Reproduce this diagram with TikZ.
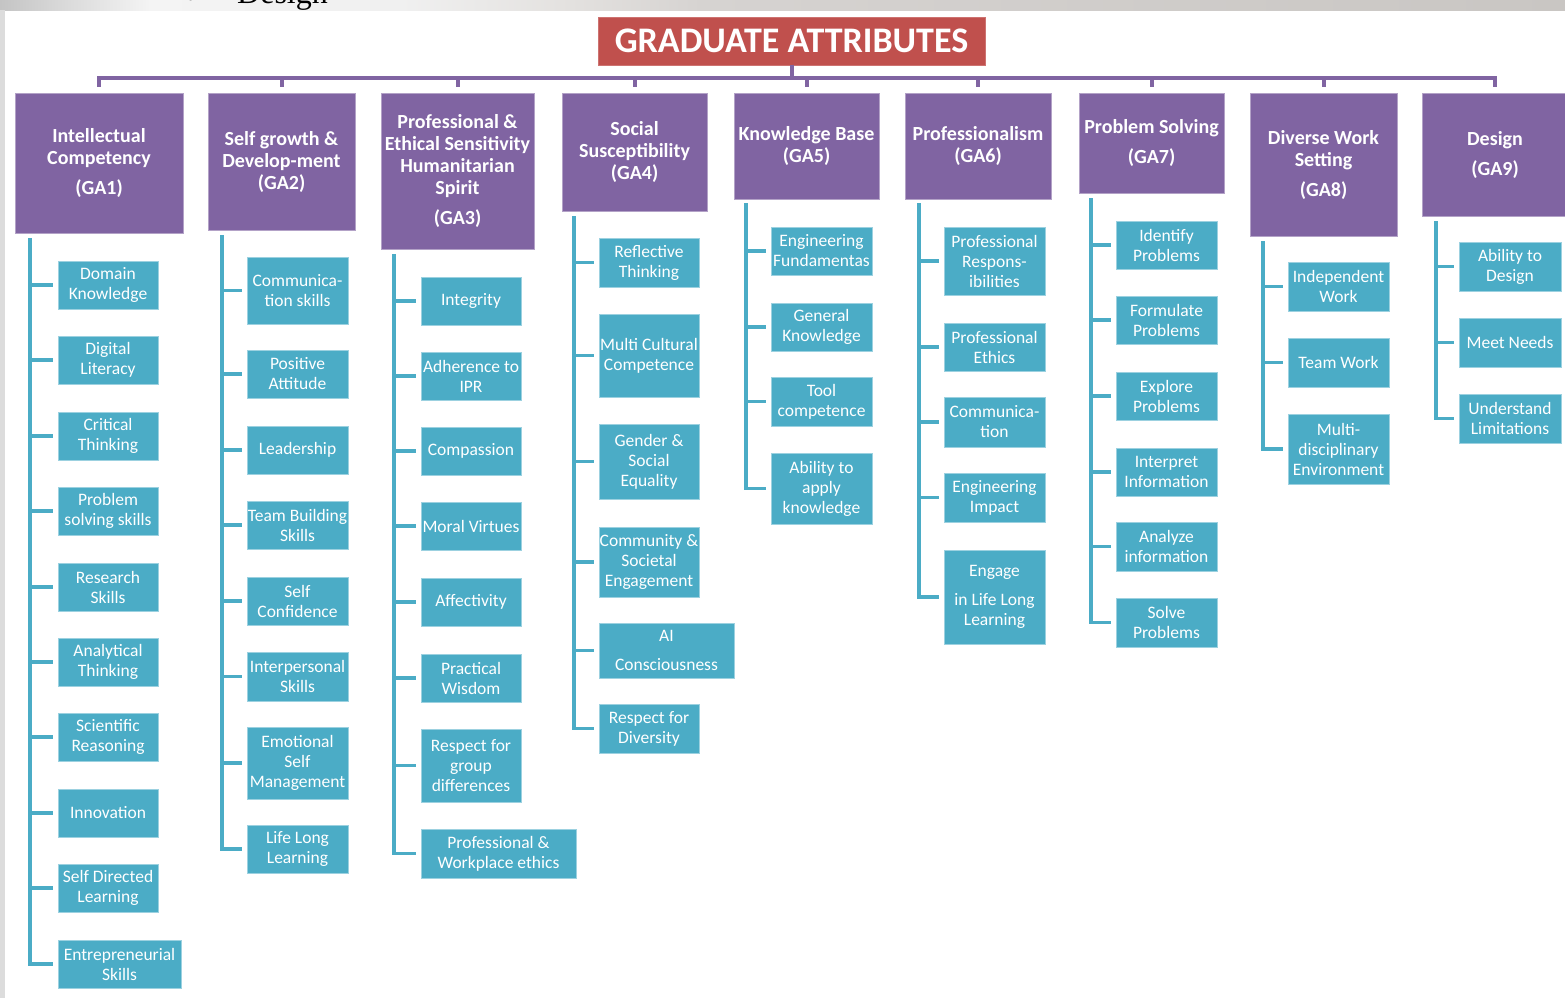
\documentclass[tikz,border=0pt]{standalone}
\usepackage{fontspec}
\setmainfont{Carlito}
\newfontfamily\bandserif{Liberation Serif}

\definecolor{gapurple}{HTML}{8064A2}
\definecolor{gateal}{HTML}{4BACC6}
\definecolor{gared}{HTML}{C0504D}
\definecolor{bandA}{HTML}{C4C4C4}
\definecolor{bandB}{HTML}{D8D8D8}
\definecolor{bandC}{HTML}{F4F4F4}
\definecolor{bandD}{HTML}{F0F0F0}
\definecolor{bandE}{HTML}{E4E2E0}
\definecolor{bandF}{HTML}{D6D3D1}
\definecolor{bandG}{HTML}{C9C6C3}
\definecolor{sidegrey}{HTML}{DCDCDC}

% slide band along the top edge (visible part of the shading is 25bp..75bp)
\pgfdeclarehorizontalshading{topband}{100bp}{%
  color(0bp)=(bandA); color(25bp)=(bandA); color(26.9bp)=(bandB);
  color(29.8bp)=(bandC); color(37.8bp)=(bandD); color(42.9bp)=(bandE);
  color(47.4bp)=(bandF); color(75bp)=(bandG); color(100bp)=(bandG)}

\tikzset{
  attr/.style={fill=gapurple, draw=gapurple!60!white, line width=0.8pt,
    text=white, font=\bfseries\fontsize{20}{22}\selectfont, align=center,
    inner sep=0pt, outer sep=0pt},
  heading/.style={fill=gared, draw=gared!80!white, line width=0.8pt,
    text=white, font=\bfseries\fontsize{36}{38}\selectfont, align=center,
    inner sep=0pt, outer sep=0pt},
  item/.style={fill=gateal, draw=gateal!55!white, line width=0.8pt,
    text=white, font=\fontsize{17.5}{20}\selectfont, align=center,
    inner sep=0pt, outer sep=0pt},
  trunk/.style={draw=gateal, line width=3.5pt, shorten >=5pt},
  stem/.style={draw=gapurple, line width=4pt, shorten >=6pt},
}

% \boxat{style}{name}{left}{top}{right}{bottom}{text}
\newcommand\boxat[7]{%
  \node[#1, minimum width={#5-#3}, minimum height={#6-#4}] (#2)
    at ({(#3+#5)/2},{(#4+#6)/2}) {#7};}

\begin{document}
\begin{tikzpicture}[x=1pt,y=-1pt]
\useasboundingbox (0,0) rectangle (1565,998);
\fill[white] (0,0) rectangle (1565,998);

% page edges
\fill[shading=topband] (0,0) rectangle (1565,10.5);
\fill[sidegrey] (0,10.5) rectangle (5,998);
\begin{scope}
  \clip (0,0) rectangle (1565,10.5);
  \node[font=\bandserif\fontsize{32}{32}\selectfont, anchor=base west,
        inner sep=0pt] (bullet) at (185,8) {•};
  \node[font=\bandserif\fontsize{32}{32}\selectfont, anchor=base west,
        inner sep=0pt] (designword) at (237,4) {Design};
\end{scope}

% title
\boxat{heading}{title}{598}{17}{985}{65}{GRADUATE ATTRIBUTES}

% attribute headers
\boxat{attr}{g1}{15}{93}{183}{233}{Intellectual\\Competency\\[8pt](GA1)}
\boxat{attr}{g2}{208}{93}{355}{230}{Self growth \&\\Develop-ment\\(GA2)}
\boxat{attr}{g3}{381}{93}{534}{249}{Professional \&\\Ethical Sensitivity\\Humanitarian\\Spirit\\[8pt](GA3)}
\boxat{attr}{g4}{562}{93}{707}{211}{Social\\Susceptibility\\(GA4)}
\boxat{attr}{g5}{734}{93}{879}{199}{Knowledge Base\\(GA5)}
\boxat{attr}{g6}{905}{93}{1051}{199}{Professionalism\\(GA6)}
\boxat{attr}{g7}{1079}{93}{1224}{193}{Problem Solving\\[8pt](GA7)}
\boxat{attr}{g8}{1250}{93}{1397}{236}{Diverse Work\\Setting\\[8pt](GA8)}
\boxat{attr}{g9}{1422}{93}{1568}{216}{Design\\[8pt](GA9)}

% title to headers
\foreach \g in {g1,g2,g3,g4,g5,g6,g7,g8,g9}
  \draw[stem] (title.south) -- ++(0,13) -| (\g.north);

% GA1
\boxat{item}{a1}{58}{261}{158}{309}{Domain\\Knowledge}
\boxat{item}{a2}{58}{336}{158}{384}{Digital\\Literacy}
\boxat{item}{a3}{58}{412}{158}{460}{Critical\\Thinking}
\boxat{item}{a4}{58}{487}{158}{535}{Problem\\solving skills}
\boxat{item}{a5}{58}{563}{158}{611}{Research\\Skills}
\boxat{item}{a6}{58}{638}{158}{686}{Analytical\\Thinking}
\boxat{item}{a7}{58}{713}{158}{761}{Scientific\\Reasoning}
\boxat{item}{a8}{58}{789}{158}{837}{Innovation}
\boxat{item}{a9}{58}{864}{158}{912}{Self Directed\\Learning}
\boxat{item}{a10}{58}{940}{181}{988}{Entrepreneurial\\Skills}
\coordinate (t1) at (30,238);
\foreach \n in {a1,a2,a3,a4,a5,a6,a7,a8,a9,a10}
  \draw[trunk] (t1) |- (\n.west);

% GA2
\boxat{item}{b1}{247}{257}{348}{324}{Communica-\\tion skills}
\boxat{item}{b2}{247}{350}{348}{398}{Positive\\Attitude}
\boxat{item}{b3}{247}{426}{348}{474}{Leadership}
\boxat{item}{b4}{247}{501}{348}{549}{Team Building\\Skills}
\boxat{item}{b5}{247}{577}{348}{625}{Self\\Confidence}
\boxat{item}{b6}{247}{652}{348}{701}{Interpersonal\\Skills}
\boxat{item}{b7}{247}{727}{348}{799}{Emotional\\Self\\Management}
\boxat{item}{b8}{247}{825}{348}{873}{Life Long\\Learning}
\coordinate (t2) at (222,235);
\foreach \n in {b1,b2,b3,b4,b5,b6,b7,b8}
  \draw[trunk] (t2) |- (\n.west);

% GA3
\boxat{item}{c1}{421}{277}{521}{325}{Integrity}
\boxat{item}{c2}{421}{352}{521}{400}{Adherence to\\IPR}
\boxat{item}{c3}{421}{427}{521}{475}{Compassion}
\boxat{item}{c4}{421}{502}{521}{550}{Moral Virtues}
\boxat{item}{c5}{421}{578}{521}{626}{Affectivity}
\boxat{item}{c6}{421}{654}{521}{702}{Practical\\Wisdom}
\boxat{item}{c7}{421}{729}{521}{802}{Respect for\\group\\differences}
\boxat{item}{c8}{421}{829}{576}{878}{Professional \&\\Workplace ethics}
\coordinate (t3) at (394,254);
\foreach \n in {c1,c2,c3,c4,c5,c6,c7,c8}
  \draw[trunk] (t3) |- (\n.west);

% GA4
\boxat{item}{d1}{599}{238}{699}{287}{Reflective\\Thinking}
\boxat{item}{d2}{599}{314}{699}{397}{Multi Cultural\\Competence}
\boxat{item}{d3}{599}{424}{699}{499}{Gender \&\\Social\\Equality}
\boxat{item}{d4}{599}{527}{699}{597}{Community \&\\Societal\\Engagement}
\boxat{item}{d5}{599}{623}{734}{678}{AI\\[9pt]Consciousness}
\boxat{item}{d6}{599}{704}{699}{753}{Respect for\\Diversity}
\coordinate (t4) at (574,216);
\foreach \n in {d1,d2,d3,d4,d5,d6}
  \draw[trunk] (t4) |- (\n.west);

% GA5
\boxat{item}{e1}{771}{227}{872}{275}{Engineering\\Fundamentas}
\boxat{item}{e2}{771}{303}{872}{351}{General\\Knowledge}
\boxat{item}{e3}{771}{377}{872}{426}{Tool\\competence}
\boxat{item}{e4}{771}{453}{872}{524}{Ability to\\apply\\knowledge}
\coordinate (t5) at (746,203);
\foreach \n in {e1,e2,e3,e4}
  \draw[trunk] (t5) |- (\n.west);

% GA6
\boxat{item}{f1}{944}{227}{1045}{295}{Professional\\Respons-\\ibilities}
\boxat{item}{f2}{944}{323}{1045}{371}{Professional\\Ethics}
\boxat{item}{f3}{944}{397}{1045}{447}{Communica-\\tion}
\boxat{item}{f4}{944}{473}{1045}{522}{Engineering\\Impact}
\boxat{item}{f5}{944}{550}{1045}{644}{Engage\\[9pt]in Life Long\\Learning}
\coordinate (t6) at (919,203);
\foreach \n in {f1,f2,f3,f4,f5}
  \draw[trunk] (t6) |- (\n.west);

% GA7
\boxat{item}{h1}{1116}{221}{1217}{269}{Identify\\Problems}
\boxat{item}{h2}{1116}{296}{1217}{344}{Formulate\\Problems}
\boxat{item}{h3}{1116}{372}{1217}{420}{Explore\\Problems}
\boxat{item}{h4}{1116}{448}{1217}{496}{Interpret\\Information}
\boxat{item}{h5}{1116}{522}{1217}{571}{Analyze\\information}
\boxat{item}{h6}{1116}{598}{1217}{647}{Solve\\Problems}
\coordinate (t7) at (1091,198);
\foreach \n in {h1,h2,h3,h4,h5,h6}
  \draw[trunk] (t7) |- (\n.west);

% GA8
\boxat{item}{k1}{1288}{262}{1389}{311}{Independent\\Work}
\boxat{item}{k2}{1288}{338}{1389}{387}{Team Work}
\boxat{item}{k3}{1288}{414}{1389}{484}{Multi-\\disciplinary\\Environment}
\coordinate (t8) at (1263,241);
\foreach \n in {k1,k2,k3}
  \draw[trunk] (t8) |- (\n.west);

% GA9
\boxat{item}{m1}{1459}{242}{1561}{291}{Ability to\\Design}
\boxat{item}{m2}{1459}{318}{1561}{367}{Meet Needs}
\boxat{item}{m3}{1459}{394}{1561}{443}{Understand\\Limitations}
\coordinate (t9) at (1436,221);
\foreach \n in {m1,m2,m3}
  \draw[trunk] (t9) |- (\n.west);
\end{tikzpicture}
\end{document}
